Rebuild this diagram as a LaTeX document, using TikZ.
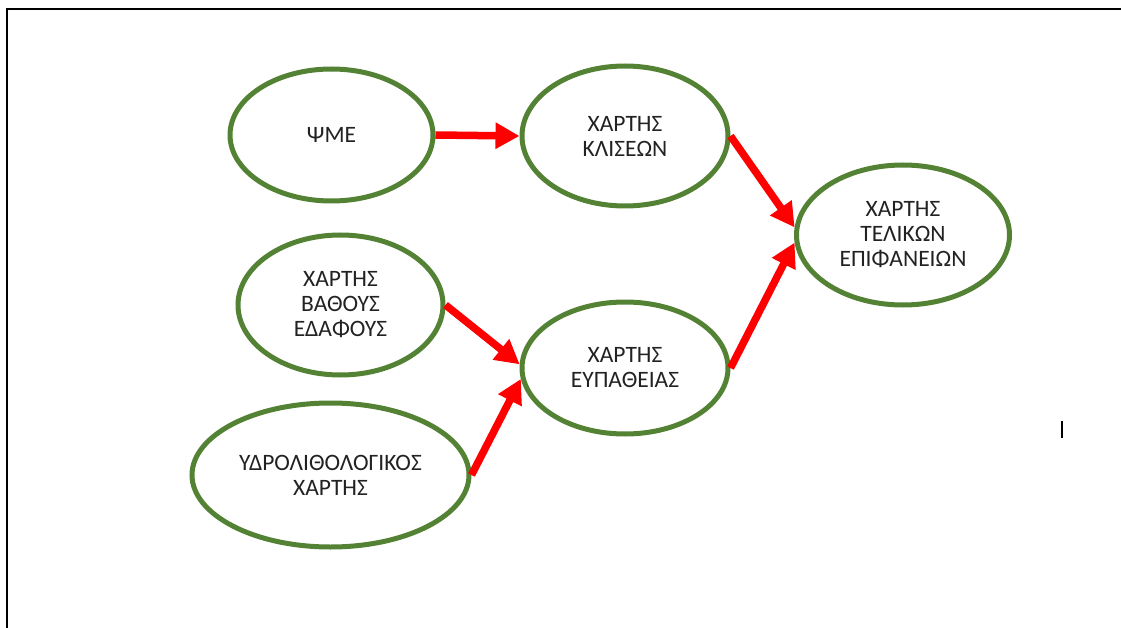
\documentclass[tikz,border=0pt]{standalone}
\usepackage{fontspec}
\setmainfont{Carlito}
\usetikzlibrary{shapes.geometric,arrows.meta}
\definecolor{ringgreen}{HTML}{548235}
\definecolor{arrowred}{HTML}{FF0000}
\definecolor{textgray}{HTML}{222222}
\tikzset{
  ring/.style={ellipse, draw=ringgreen, line width=5pt, fill=white,
    inner sep=0pt, minimum width=#1, text=textgray, align=center,
    font=\fontsize{23.5pt}{25pt}\selectfont},
  link/.style={draw=arrowred, line width=7.5pt,
    -{Triangle[length=24pt,width=25pt]}, shorten >=0pt},
  frameline/.style={draw=black, line width=2.5pt},
}
\begin{document}
\begin{tikzpicture}[x=1pt,y=-1pt]
\useasboundingbox (0,0) rectangle (1121,628);
% frame
\coordinate (fTL) at (7,9);
\coordinate (fTR) at (1121,9);
\coordinate (fBL) at (7,628);
\draw[frameline] (fTR) -- (fTL) -- (fBL);
% stray mark
\coordinate (m1) at (1062,421);
\coordinate (m2) at (1062,438);
\draw[black, line width=1.5pt] (m1) -- (m2);
% nodes
\node[ring=203pt, minimum height=132pt] (psi) at (331.5,135) {ΨΜΕ};
\node[ring=206pt, minimum height=140pt] (kl) at (625,136) {ΧΑΡΤΗΣ\\ΚΛΙΣΕΩΝ};
\node[ring=213pt, minimum height=140pt] (tel) at (903,235) {ΧΑΡΤΗΣ\\ΤΕΛΙΚΩΝ\\ΕΠΙΦΑΝΕΙΩΝ};
\node[ring=205pt, minimum height=140pt] (bath) at (340.5,305) {ΧΑΡΤΗΣ\\ΒΑΘΟΥΣ\\ΕΔΑΦΟΥΣ};
\node[ring=277pt, minimum height=144pt] (ydro) at (330.5,475) {ΥΔΡΟΛΙΘΟΛΟΓΙΚΟΣ\\ΧΑΡΤΗΣ};
\node[ring=206pt, minimum height=132pt] (eyp) at (625,368) {ΧΑΡΤΗΣ\\ΕΥΠΑΘΕΙΑΣ};
% connectors
\draw[link] (psi.east) -- (kl.west);
\draw[link] (kl.east) -- (tel.176);
\draw[link] (eyp.east) -- (tel.184);
\draw[link] (bath.east) -- (eyp.178);
\draw[link] (ydro.east) -- (eyp.186);
\end{tikzpicture}
\end{document}
